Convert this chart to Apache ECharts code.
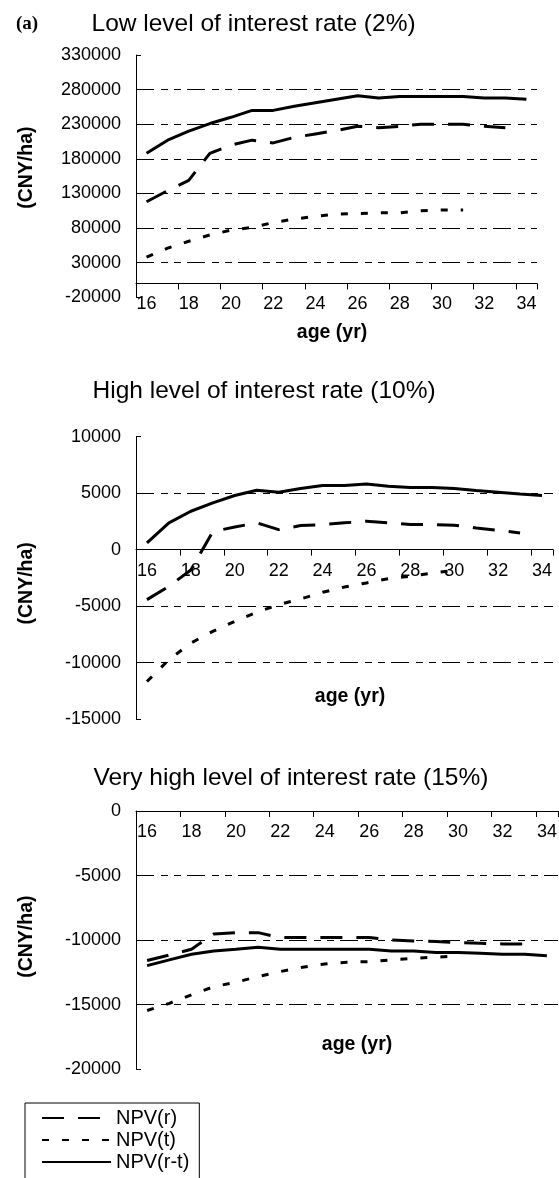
<!DOCTYPE html>
<html><head><meta charset="utf-8">
<script src="https://cdn.jsdelivr.net/npm/echarts@6/dist/echarts.min.js"></script>
<style>html,body{margin:0;padding:0;background:#fff}#c{width:559px;height:1178px}</style>
</head><body><div id="c"></div>
<script>
// categories: stand age (yr)
const ages = ['16','17','18','19','20','21','22','23','24','25','26','27','28','29','30','31','32','33','34'];
const seriesNames = ['NPV(r)', 'NPV(t)', 'NPV(r-t)'];
const panelTitles = ['Low level of interest rate (2%)', 'High level of interest rate (10%)', 'Very high level of interest rate (15%)'];
const xAxisTitle = 'age (yr)';
const yAxisTitle = '(CNY/ha)';

// Panel 1: interest rate 2%
const npvR_2  = [118000,134000,149000,188000,200000,207000,203000,211000,216000,221000,227000,225000,227000,230000,230000,230000,227000,225000];
const npvT_2  = [38000,51000,61000,70000,77000,81000,88000,93000,97000,100000,101000,102000,102000,105000,106000,106000];
const npvRT_2 = [188000,207000,220000,231000,240000,250000,250000,256000,261000,266000,271000,268000,270000,270000,270000,270000,268000,268000,266000];

// Panel 2: interest rate 10%
const npvR_10  = [-4430,-3250,-1800,1600,2000,2370,1770,2130,2220,2370,2510,2370,2220,2220,2160,1920,1710,1480];
const npvT_10  = [-11680,-9750,-8270,-7240,-6350,-5550,-4880,-4370,-3780,-3310,-2950,-2570,-2360,-2070,-1860];
const npvRT_10 = [590,2370,3400,4140,4790,5260,5080,5410,5670,5670,5820,5610,5500,5500,5410,5230,5080,4930,4790];

// Panel 3: interest rate 15%
const npvR_15  = [-11580,-11150,-10700,-9520,-9420,-9420,-9800,-9800,-9800,-9800,-9800,-9980,-10060,-10110,-10190,-10240,-10290,-10290];
const npvT_15  = [-15450,-14890,-14240,-13600,-13260,-12820,-12430,-12100,-11840,-11710,-11660,-11530,-11400,-11320,-11220];
const npvRT_15 = [-11970,-11530,-11090,-10840,-10710,-10550,-10710,-10710,-10710,-10710,-10710,-10840,-10840,-10960,-10960,-11010,-11090,-11090,-11200];

// y-axis tick ranges
const yMins = [-20000, -15000, -20000];
const yMaxs = [330000, 10000, 0];
const yIntervals = [50000, 5000, 5000];
const xCrossAt = [0, 0, 0]; // value where the category axis crosses

const panelData = [[npvR_2, npvT_2, npvRT_2],[npvR_10, npvT_10, npvRT_10],[npvR_15, npvT_15, npvRT_15]];

const FONT = "'Liberation Sans', Arial, sans-serif";
const grids = [
  {left: 136, top: 55, width: 401, height: 242.3, outerBoundsMode: 'none'},
  {left: 136, top: 436.7, width: 417, height: 282.3, outerBoundsMode: 'none'},
  {left: 136, top: 811, width: 422, height: 258.3, outerBoundsMode: 'none'}
];
const titleTops = [12, 379, 766];
const titleLefts = [91.5, 92.5, 93.5];
const xNameCenters = [332, 350, 357];
const xNameTops = [323, 687, 1035];
const yNamePads = [[0,0,0,17],[0,11,0,0],[0,0,0,7]];
const lineTypes = [[22,14],[7,13],'solid'];

const titles = [{text: '(a)', left: 16, top: 15, padding: 0,
  textStyle: {fontFamily: "'Liberation Serif', 'Times New Roman', serif", fontWeight: 'bold', fontSize: 19, color: '#000'}}];
panelTitles.forEach((t, i) => titles.push({text: t, left: titleLefts[i], top: titleTops[i], padding: 0,
  textStyle: {fontFamily: FONT, fontWeight: 'normal', fontSize: 24.5, color: '#000'}}));
xNameCenters.forEach((c, i) => titles.push({text: xAxisTitle, left: c, top: xNameTops[i], padding: 0, textAlign: 'center',
  textStyle: {fontFamily: FONT, fontWeight: 'bold', fontSize: 19.5, color: '#000'}}));

const option = {
  animation: false,
  backgroundColor: '#fff',
  title: titles,
  legend: {
    data: seriesNames, orient: 'vertical', left: 25, top: 1103, height: 200,
    padding: [5, 10, 20, 16], itemWidth: 69, itemHeight: 14, itemGap: 2,
    borderColor: '#000', borderWidth: 1, selectedMode: false,
    itemStyle: {opacity: 0, borderWidth: 0, color: 'rgba(0,0,0,0)'},
    textStyle: {fontFamily: FONT, fontSize: 20, color: '#000'}
  },
  grid: grids,
  xAxis: grids.map((g, i) => ({
    type: 'category', gridIndex: i, data: ages, boundaryGap: true, position: 'bottom',
    // place the axis where the value axis equals xCrossAt (offset from the grid bottom, derived from the y scale)
    offset: -(xCrossAt[i] - yMins[i]) / (yMaxs[i] - yMins[i]) * g.height,
    axisLine: {onZero: false, lineStyle: {color: '#000', width: 1}},
    axisTick: {show: true, interval: 1, length: 6, lineStyle: {color: '#000'}},
    axisLabel: {interval: 1, margin: 12, fontFamily: FONT, fontSize: 18, color: '#000'},
    splitLine: {show: false}
  })),
  yAxis: grids.map((g, i) => ({
    type: 'value', gridIndex: i, min: yMins[i], max: yMaxs[i], interval: yIntervals[i],
    name: yAxisTitle, nameLocation: 'middle', nameGap: 99,
    nameTextStyle: {fontFamily: FONT, fontWeight: 'bold', fontSize: 19.5, color: '#000', padding: yNamePads[i]},
    axisLine: {show: true, lineStyle: {color: '#000', width: 1}},
    axisTick: {show: true, inside: true, length: 5, lineStyle: {color: '#000'}},
    axisLabel: {margin: 15, fontFamily: FONT, fontSize: 18, color: '#000', formatter: v => String(v)},
    splitLine: {show: true, showMinLine: false, showMaxLine: false,
      lineStyle: {color: '#000', width: 1, type: [18,7,7,6,7,6]}}
  })),
  series: []
};

panelData.forEach((arrs, i) => {
  arrs.forEach((vals, k) => {
    option.series.push({
      name: seriesNames[k], type: 'line', xAxisIndex: i, yAxisIndex: i,
      data: vals, symbol: 'none', showSymbol: false, smooth: false,
      lineStyle: {color: '#000', width: 3, type: lineTypes[k]},
      itemStyle: {color: '#000'}, z: 3
    });
  });
});

const chart = echarts.init(document.getElementById('c'), null, {renderer: 'canvas'});
chart.setOption(option);
</script>
</body></html>
